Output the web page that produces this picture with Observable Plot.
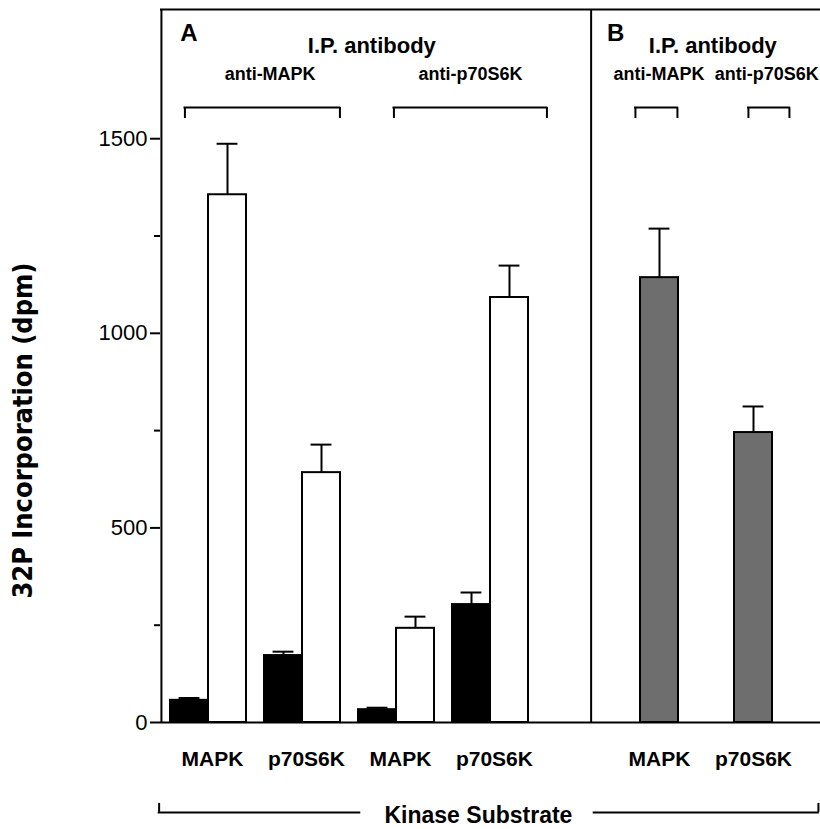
<!DOCTYPE html>
<html><head><meta charset="utf-8">
<script src="https://cdn.jsdelivr.net/npm/d3@7"></script>
<script src="https://cdn.jsdelivr.net/npm/@observablehq/plot@0.6"></script>
<style>html,body{margin:0;padding:0;background:#fff}#chart svg{display:block}</style>
</head><body><div id="chart"></div>
<script>
// ---- data ----
const groupKeys = ["g0", "g1", "g2", "g3", "g4", "g5", "g6"];
const substrateLabels = ["MAPK", "p70S6K", "MAPK", "p70S6K", "", "MAPK", "p70S6K"];
const antibodyLabelsA = ["anti-MAPK", "anti-p70S6K"];
const antibodyLabelsB = ["anti-MAPK", "anti-p70S6K"];
const basalValues = [57, 172, 33, 303];
const basalErrors = [6, 10, 5, 31];
const stimValues = [1356, 642, 242, 1092];
const stimErrors = [131, 72, 30, 82];
const panelBValues = [1143, 745];
const panelBErrors = [126, 67];
const yTicks = [0, 500, 1000, 1500];
const yMinorTicks = [250, 750, 1250];

// ---- layout ----
const W = 820, H = 829, ML = 160, MR = 0, MT = 9, MB = 107;
const Y_MAX = 1832;
const slots = groupKeys.flatMap(g => [g + "L", g + "R"]);
const bw = (W - ML - MR) / slots.length;
const GAP = 9, CAP = 10.5, LW = 2;
const FONT = "'Liberation Sans', Arial, Helvetica, sans-serif";

const basalRows = basalValues.map((v, i) => ({slot: groupKeys[i] + "L", value: v, err: basalErrors[i]}));
const stimRows = stimValues.map((v, i) => ({slot: groupKeys[i] + "R", value: v, err: stimErrors[i]}));
const bRows = panelBValues.map((v, i) => ({slot: groupKeys[5 + i] + "L", value: v, err: panelBErrors[i]}));

function barMarks(rows, fill, side) {
  const L = side === "L";
  return [
    Plot.barY(rows, {x: "slot", y: "value", fill, stroke: "black", strokeWidth: LW,
      insetLeft: L ? GAP : 0, insetRight: L ? 0 : GAP}),
    Plot.ruleX(rows, {x: "slot", y1: "value", y2: d => d.value + d.err, stroke: "black", strokeWidth: LW,
      dx: L ? GAP / 2 : -GAP / 2}),
    Plot.ruleY(rows, {x1: "slot", x2: "slot", y: d => d.value + d.err, stroke: "black", strokeWidth: LW,
      insetLeft: L ? bw / 2 + GAP / 2 - CAP : bw / 2 - GAP / 2 - CAP,
      insetRight: L ? bw / 2 - GAP / 2 - CAP : bw / 2 + GAP / 2 - CAP})
  ];
}

// horizontal line from (slotA + offA) to (slotB + offB) at value yv, with end ticks to yEnd
function bracket(slotA, offA, slotB, offB, yv, yEnd) {
  const marks = [
    Plot.ruleY([{a: slotA, b: slotB, y: yv}], {x1: "a", x2: "b", y: "y", stroke: "black", strokeWidth: LW,
      insetLeft: offA - 1, insetRight: bw - offB - 1})
  ];
  if (yEnd !== undefined) {
    marks.push(Plot.ruleX([{s: slotA, y1: yv, y2: yEnd}], {x: "s", y1: "y1", y2: "y2", stroke: "black", strokeWidth: LW, dx: offA - bw / 2}));
    marks.push(Plot.ruleX([{s: slotB, y1: yv, y2: yEnd}], {x: "s", y1: "y1", y2: "y2", stroke: "black", strokeWidth: LW, dx: offB - bw / 2}));
  }
  return marks;
}

// text anchored at a pixel offset from the start of a slot
function label(text, slot, off, yv, size, extra = {}) {
  return Plot.text([{slot, yv, text}], {x: "slot", y: "yv", text: "text", dx: off - bw / 2,
    fontSize: size, fontWeight: "bold", fill: "black", ...extra});
}

const vline = (slot, off, y1, y2) =>
  Plot.ruleX([{s: slot, y1, y2}], {x: "s", y1: "y1", y2: "y2", stroke: "black", strokeWidth: LW, dx: off - bw / 2});

const substrateA = substrateLabels.slice(0, 4).map((t, i) => ({slot: groupKeys[i] + "R", t}));
const substrateB = substrateLabels.slice(5).map((t, i) => ({slot: groupKeys[5 + i] + "L", t}));

const chart = Plot.plot({
  width: W, height: H,
  marginLeft: ML, marginRight: MR, marginTop: MT, marginBottom: MB,
  style: {fontFamily: FONT, color: "black", background: "white", overflow: "visible"},
  x: {type: "band", domain: slots, padding: 0, axis: null},
  y: {domain: [0, Y_MAX], label: null},
  marks: [
    Plot.axisY({ticks: yTicks, tickSize: 10, tickPadding: 3, tickFormat: d => String(d), fontSize: 22, strokeWidth: LW, label: null}),
    Plot.axisY({ticks: yMinorTicks, tickSize: 6, tickFormat: () => "", strokeWidth: LW, label: null}),
    // frame
    vline("g0L", 0, 0, Y_MAX),
    vline("g4R", 6.7, 0, Y_MAX),
    Plot.ruleY([0, Y_MAX], {stroke: "black", strokeWidth: LW}),
    // bars
    ...barMarks(basalRows, "black", "L"),
    ...barMarks(stimRows, "white", "R"),
    ...barMarks(bRows, "#6e6e6e", "L"),
    // top annotations
    label("A", "g0L", 27.5, 1770, 24),
    label("I.P. antibody", "g2L", 22.4, 1738, 22),
    label(antibodyLabelsA[0], "g1L", 14.7, 1665, 18),
    label(antibodyLabelsA[1], "g3L", 27, 1665, 18),
    label("B", "g4R", 31.2, 1770, 24),
    label("I.P. antibody", "g5R", 34.4, 1738, 22),
    label(antibodyLabelsB[0], "g5L", 27.6, 1665, 18),
    label(antibodyLabelsB[1], "g6L", 41.3, 1665, 18),
    ...bracket("g0L", 23.5, "g1R", 37.5, 1580, 1552),
    ...bracket("g2L", 44.5, "g4L", 9.5, 1580, 1552),
    ...bracket("g5L", 4, "g5L", 46, 1580, 1552),
    ...bracket("g6L", 23, "g6R", 17, 1580, 1552),
    // substrate labels
    Plot.text(substrateA, {x: "slot", y: () => -95, text: "t", dx: -bw / 2 + 4, fontSize: 21, fontWeight: "bold", fill: "black"}),
    Plot.text(substrateB, {x: "slot", y: () => -95, text: "t", dx: GAP / 2, fontSize: 21, fontWeight: "bold", fill: "black"}),
    // bottom bracket
    ...bracket("g0L", -2.3, "g2L", 10.4, -231),
    ...bracket("g4R", 9.7, "g6R", 46, -231),
    vline("g0L", -2.3, -231, -208),
    vline("g6R", 46, -231, -208),
    label("Kinase Substrate", "g3L", 35, -240, 23),
    // y label
    label("32P Incorporation (dpm)", "g0L", -138, 750, 27,
      {rotate: -90, fontFamily: "'Liberation Sans Narrow', 'DejaVu Sans Condensed', Arial, sans-serif"})
  ]
});
document.getElementById("chart").appendChild(chart);
d3.select(chart).selectAll("text").filter(function () { return this.textContent.startsWith("32P"); })
  .attr("textLength", 336).attr("lengthAdjust", "spacing");
</script>
</body></html>
